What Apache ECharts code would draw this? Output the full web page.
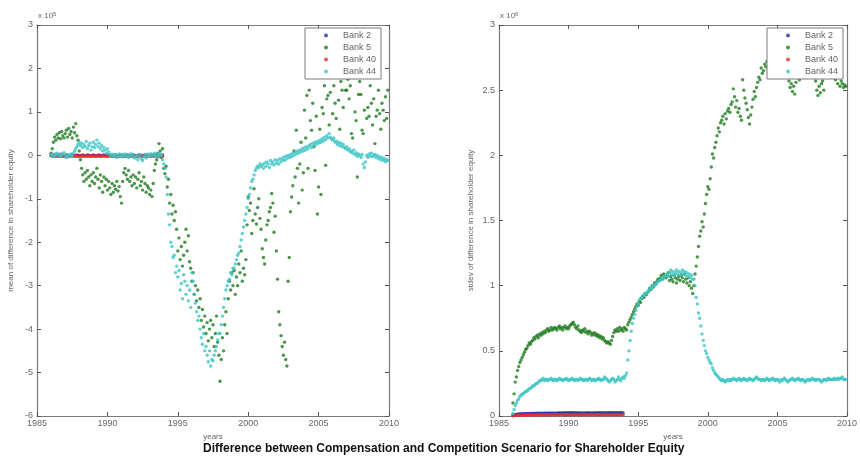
<!DOCTYPE html>
<html>
<head>
<meta charset="utf-8">
<script src="https://cdn.jsdelivr.net/npm/echarts@6/dist/echarts.min.js"></script>
<style>
  html, body { margin: 0; padding: 0; background: #fff; }
  #chart { width: 860px; height: 458px; }
</style>
</head>
<body>
<div id="chart"></div>
<script>
// monthly observations, first one at START_YEAR
const START_YEAR = 1986;
const bankNames = ["Bank 2", "Bank 5", "Bank 40", "Bank 44"];
const bankColors = ["#2b2ba6", "#1f7a1f", "#e03030", "#3cc4c4"];
const meanTicks = [-6, -5, -4, -3, -2, -1, 0, 1, 2, 3];
const stdevTicks = [0, 0.5, 1, 1.5, 2, 2.5, 3];
const yearTicks = [1985, 1990, 1995, 2000, 2005, 2010];

// mean of difference, x 10^5
const bank2Mean = [
  0.00, 0.01, -0.01, 0.00, 0.01, 0.00, -0.01, 0.00, 0.01, 0.00, 0.00, -0.01,
  0.00, 0.01, 0.00, -0.01, 0.00, 0.01, 0.00, 0.00, -0.01, 0.00, 0.01, 0.00,
  -0.01, 0.00, 0.00, 0.01, 0.00, -0.01, 0.00, 0.01, 0.00, 0.00, -0.01, 0.00,
  0.01, 0.00, -0.01, 0.00, 0.00, 0.01, 0.00, -0.01, 0.00, 0.01, 0.00, 0.00,
  -0.01, 0.00, 0.01, 0.00, 0.00, -0.01, 0.00, 0.01, 0.00, -0.01, 0.00, 0.00,
  0.01, 0.00, 0.00, -0.01, 0.00, 0.01, 0.00, 0.00, -0.01, 0.00, 0.01, 0.00,
  0.00, -0.01, 0.00, 0.01, 0.00, 0.00, -0.01, 0.00, 0.01, 0.00, 0.00, -0.01,
  0.00, 0.01, 0.00, -0.01, 0.00, 0.00, 0.01, 0.00, -0.01, 0.00, 0.00, 0.01
];
const bank5Mean = [
  0.05, 0.15, 0.30, 0.42, 0.35, 0.48, 0.40, 0.52, 0.38, 0.55, 0.45, 0.40,
  0.50, 0.58, 0.42, 0.62, 0.48, 0.55, 0.40, 0.65, 0.52, 0.73, 0.45, 0.35,
  0.10, -0.10, -0.30, -0.45, -0.60, -0.40, -0.55, -0.35, -0.50, -0.70, -0.45, -0.60,
  -0.40, -0.65, -0.50, -0.30, -0.55, -0.75, -0.45, -0.60, -0.85, -0.50, -0.70, -0.55,
  -0.80, -0.60, -0.75, -0.90, -0.65, -0.85, -0.70, -0.78, -0.60, -0.82, -0.72, -0.95,
  -1.10, -0.60, -0.40, -0.30, -0.45, -0.55, -0.35, -0.60, -0.50, -0.70, -0.45, -0.65,
  -0.50, -0.75, -0.55, -0.40, -0.70, -0.60, -0.80, -0.50, -0.65, -0.85, -0.70, -0.75,
  -0.90, -0.80, -0.95, -0.65, -0.35, -0.20, -0.10, 0.05, 0.27, 0.10, -0.05, 0.15,
  -0.30, -0.42, -0.25, -0.73, -0.55, -1.10, -0.90, -1.35, -1.15, -1.50, -1.30, -1.70,
  -2.20, -1.90, -2.40, -2.10, -2.55, -2.30, -2.00, -1.70, -2.20, -1.85, -2.45, -2.60,
  -2.90, -2.70, -3.20, -3.00, -3.35, -3.10, -3.50, -3.30, -3.80, -3.55, -3.95, -3.70,
  -4.10, -3.85, -4.27, -4.00, -3.80, -4.20, -3.90, -4.40, -4.10, -3.70, -4.30, -4.60,
  -5.20, -4.70, -4.20, -4.50, -3.90, -3.60, -4.10, -3.30, -2.90, -3.10, -2.70, -3.00,
  -2.65, -3.20, -2.80, -3.00, -2.50, -2.70, -2.20, -2.90, -2.60, -2.75, -2.40, -1.60,
  -0.96, -1.27, -1.10, -1.80, -1.50, -0.77, -1.35, -1.58, -1.20, -1.00, -1.45, -1.70,
  -2.15, -2.35, -2.50, -1.95, -1.60, -1.50, -1.30, -1.20, -0.88, -1.10, -1.77, -1.40,
  -2.20, -2.85, -3.60, -3.90, -4.15, -4.40, -4.60, -4.30, -4.70, -4.85, -2.90, -2.35,
  -1.30, -0.96, -0.70, 0.10, -0.50, 0.58, -0.30, -1.10, -0.20, 0.30, -0.80, -0.40,
  1.04, 0.40, 1.38, -0.30, 1.50, 0.80, 0.58, 1.20, 0.20, -0.35, 0.90, -1.35,
  -0.73, 0.60, -0.90, 1.10, 0.96, 1.60, -0.23, 1.30, 1.38, 0.70, 1.45, 1.85,
  0.96, 1.60, 1.20, 0.85, 1.90, 1.27, 0.60, 1.70, 1.50, 1.10, 2.00, 1.50,
  1.50, 1.75, 1.30, 1.60, 0.50, 0.40, 1.90, 1.00, 0.80, -0.50, 1.40, 1.70,
  1.40, 0.58, 0.50, 1.04, 1.85, 0.85, 1.10, 0.90, 1.60, 1.20, 0.70, 1.30,
  0.27, 0.90, 1.04, 1.50, 0.96, 0.60, 1.20, 1.04, 0.80, 1.35, 0.85, 1.50
];
const bank40Mean = [
  -0.01, -0.02, -0.01, -0.02, -0.01, -0.02, -0.02, -0.01, -0.02, -0.01, -0.02, -0.02,
  -0.01, -0.02, -0.02, -0.01, -0.02, -0.01, -0.02, -0.02, -0.01, -0.02, -0.01, -0.02,
  -0.02, -0.01, -0.02, -0.02, -0.01, -0.02, -0.01, -0.02, -0.02, -0.01, -0.02, -0.01,
  -0.02, -0.02, -0.01, -0.02, -0.01, -0.02, -0.02, -0.01, -0.02, -0.01, -0.02, -0.02,
  -0.01, -0.02, -0.01, -0.02, -0.02, -0.01, -0.02, -0.01, -0.02, -0.02, -0.01, -0.02,
  -0.02, -0.01, -0.02, -0.01, -0.02, -0.02, -0.01, -0.02, -0.01, -0.02, -0.02, -0.01,
  -0.02, -0.01, -0.02, -0.02, -0.01, -0.02, -0.01, -0.02, -0.02, -0.01, -0.02, -0.01,
  -0.02, -0.02, -0.01, -0.02, -0.01, -0.02, -0.02, -0.01, -0.02, -0.01, -0.02, -0.02
];
const bank44Mean = [
  0.00, 0.02, -0.02, 0.03, 0.00, 0.05, 0.02, -0.03, 0.04, 0.00, 0.03, 0.06,
  0.00, -0.05, 0.02, -0.04, 0.00, 0.03, -0.02, 0.05, 0.10, 0.15, 0.20, 0.25,
  0.30, 0.22, 0.28, 0.18, 0.25, 0.20, 0.32, 0.15, 0.22, 0.28, 0.12, 0.20,
  0.30, 0.18, 0.25, 0.35, 0.20, 0.28, 0.15, 0.22, 0.10, 0.18, 0.12, 0.05,
  0.15, 0.08, 0.02, -0.02, 0.03, 0.00, -0.03, 0.02, -0.05, 0.00, 0.03, -0.02,
  0.02, -0.04, 0.00, 0.03, -0.02, 0.01, -0.05, 0.00, 0.04, -0.02, 0.02, -0.06,
  -0.05, 0.00, -0.10, -0.03, 0.02, -0.08, -0.12, -0.04, 0.00, -0.06, 0.03, -0.02,
  0.00, 0.04, -0.03, 0.02, 0.05, -0.02, 0.00, 0.03, -0.04, 0.02, 0.00, -0.10,
  -0.20, -0.30, -0.50, -0.90, -1.35, -1.60, -2.00, -2.10, -2.35, -2.30, -2.70, -2.55,
  -2.80, -2.65, -3.10, -2.95, -3.30, -2.75, -2.90, -3.20, -3.00, -3.35, -3.10, -3.50,
  -2.70, -2.90, -3.20, -3.40, -3.60, -3.80, -3.70, -4.00, -4.20, -4.35, -4.10, -4.50,
  -4.40, -4.60, -4.75, -4.50, -4.85, -4.70, -4.73, -4.60, -4.50, -4.40, -4.25, -4.10,
  -4.10, -3.90, -3.70, -3.50, -3.30, -3.10, -3.00, -2.90, -2.85, -2.70, -2.75, -2.60,
  -2.60, -2.50, -2.40, -2.30, -2.25, -2.10, -1.95, -1.80, -1.65, -1.50, -1.35, -1.20,
  -1.00, -0.90, -0.75, -0.60, -0.55, -0.45, -0.35, -0.30, -0.25, -0.28, -0.20, -0.25,
  -0.22, -0.30, -0.18, -0.25, -0.15, -0.20, -0.28, -0.12, -0.20, -0.15, -0.22, -0.10,
  -0.18, -0.12, -0.20, -0.08, -0.15, -0.10, -0.05, -0.12, -0.02, -0.08, 0.00, -0.05,
  0.02, -0.03, 0.05, 0.00, 0.08, 0.03, 0.10, 0.05, 0.12, 0.08, 0.15, 0.10,
  0.18, 0.12, 0.20, 0.15, 0.22, 0.25, 0.18, 0.28, 0.22, 0.30, 0.25, 0.32,
  0.28, 0.35, 0.30, 0.38, 0.33, 0.42, 0.36, 0.45, 0.40, 0.50, 0.42, 0.38,
  0.35, 0.40, 0.30, 0.33, 0.25, 0.30, 0.22, 0.28, 0.20, 0.25, 0.18, 0.15,
  0.20, 0.12, 0.15, 0.08, 0.10, 0.05, 0.12, 0.02, 0.06, -0.02, 0.03, 0.00,
  -0.05, 0.02, -0.20, -0.28, -0.15, 0.00, -0.05, 0.03, -0.02, 0.05, -0.03, 0.00,
  0.02, -0.05, 0.00, -0.08, -0.03, -0.10, -0.05, -0.12, -0.08, -0.15, -0.10, -0.12
];

// stdev of difference, x 10^6
const bank2Std = [
  0.005, 0.008, 0.010, 0.012, 0.013, 0.014, 0.015, 0.016, 0.016, 0.017, 0.017, 0.018,
  0.018, 0.019, 0.018, 0.019, 0.020, 0.019, 0.020, 0.020, 0.021, 0.020, 0.021, 0.020,
  0.021, 0.020, 0.021, 0.022, 0.021, 0.020, 0.021, 0.022, 0.021, 0.022, 0.021, 0.022,
  0.022, 0.021, 0.022, 0.023, 0.022, 0.023, 0.022, 0.023, 0.024, 0.023, 0.024, 0.023,
  0.024, 0.025, 0.024, 0.025, 0.024, 0.023, 0.024, 0.023, 0.024, 0.023, 0.022, 0.023,
  0.022, 0.023, 0.022, 0.023, 0.024, 0.023, 0.022, 0.023, 0.022, 0.023, 0.024, 0.023,
  0.024, 0.023, 0.024, 0.025, 0.024, 0.023, 0.024, 0.023, 0.024, 0.023, 0.024, 0.025,
  0.024, 0.025, 0.024, 0.023, 0.024, 0.025, 0.024, 0.023, 0.024, 0.025, 0.024, 0.024
];
const bank5Std = [
  0.10, 0.17, 0.26, 0.30, 0.35, 0.38, 0.41, 0.43, 0.45, 0.47, 0.49, 0.51,
  0.52, 0.54, 0.56, 0.55, 0.57, 0.58, 0.60, 0.59, 0.61, 0.62, 0.60, 0.63,
  0.62, 0.64, 0.63, 0.65, 0.64, 0.66, 0.67, 0.65, 0.66, 0.68, 0.66, 0.67,
  0.68, 0.67, 0.66, 0.68, 0.69, 0.67, 0.68, 0.66, 0.68, 0.69, 0.67, 0.68,
  0.67, 0.69, 0.70, 0.71, 0.72, 0.70, 0.68, 0.67, 0.69, 0.66, 0.65, 0.64,
  0.66, 0.65, 0.67, 0.64, 0.65, 0.63, 0.65, 0.64, 0.62, 0.63, 0.64, 0.62,
  0.63, 0.61, 0.62, 0.60, 0.61, 0.59, 0.60, 0.58, 0.57, 0.56, 0.57, 0.56,
  0.55, 0.58, 0.61, 0.64, 0.66, 0.65, 0.67, 0.65, 0.68, 0.66, 0.67, 0.65,
  0.68, 0.67, 0.66, 0.70, 0.72, 0.74, 0.76, 0.78, 0.80, 0.82, 0.84, 0.86,
  0.85, 0.88, 0.87, 0.90, 0.92, 0.91, 0.94, 0.93, 0.95, 0.96, 0.98, 0.97,
  1.00, 0.99, 1.02, 1.01, 1.03, 1.05, 1.04, 1.06, 1.08, 1.05, 1.09, 1.07,
  1.06, 1.08, 1.10, 1.04, 1.07, 1.05, 1.03, 1.08, 1.06, 1.02, 1.05, 1.07,
  1.04, 1.08, 1.06, 1.03, 1.09, 1.05, 1.02, 1.06, 1.00, 1.03, 0.98, 0.94,
  1.00, 1.09, 1.15, 1.22, 1.30, 1.38, 1.42, 1.49, 1.45, 1.55, 1.63, 1.70,
  1.76, 1.74, 1.82, 1.91, 2.01, 1.98, 2.06, 2.10, 2.15, 2.21, 2.18, 2.25,
  2.27, 2.30, 2.24, 2.32, 2.28, 2.34, 2.36, 2.33, 2.39, 2.41, 2.51, 2.45,
  2.37, 2.42, 2.33, 2.36, 2.30, 2.27, 2.58, 2.50, 2.44, 2.40, 2.35, 2.29,
  2.24, 2.31, 2.37, 2.43, 2.49, 2.45, 2.52, 2.56, 2.60, 2.58, 2.67, 2.63,
  2.65, 2.70, 2.68, 2.72, 2.66, 2.71, 2.69, 2.74, 2.67, 2.70, 2.73, 2.68,
  2.70, 2.66, 2.72, 2.69, 2.65, 2.71, 2.68, 2.62, 2.70, 2.66, 2.57, 2.52,
  2.55, 2.49, 2.53, 2.47, 2.56, 2.60, 2.65, 2.58, 2.62, 2.67, 2.63, 2.60,
  2.64, 2.68, 2.62, 2.66, 2.60, 2.65, 2.63, 2.69, 2.61, 2.57, 2.50, 2.46,
  2.53, 2.48, 2.55, 2.57, 2.50, 2.60, 2.64, 2.62, 2.66, 2.61, 2.67, 2.63,
  2.60, 2.65, 2.58, 2.62, 2.55, 2.60, 2.53, 2.57, 2.55, 2.52, 2.54, 2.53
];
const bank40Std = [
  0.002, 0.003, 0.004, 0.005, 0.005, 0.006, 0.006, 0.007, 0.007, 0.007, 0.008, 0.008,
  0.008, 0.008, 0.009, 0.008, 0.009, 0.009, 0.008, 0.009, 0.009, 0.010, 0.009, 0.009,
  0.010, 0.009, 0.010, 0.010, 0.009, 0.010, 0.010, 0.009, 0.010, 0.010, 0.011, 0.010,
  0.010, 0.011, 0.010, 0.010, 0.011, 0.010, 0.011, 0.011, 0.010, 0.011, 0.010, 0.011,
  0.011, 0.010, 0.011, 0.011, 0.010, 0.011, 0.011, 0.010, 0.011, 0.010, 0.011, 0.011,
  0.010, 0.011, 0.011, 0.010, 0.011, 0.010, 0.011, 0.011, 0.010, 0.011, 0.011, 0.010,
  0.011, 0.010, 0.011, 0.011, 0.010, 0.011, 0.010, 0.011, 0.011, 0.010, 0.011, 0.011,
  0.010, 0.011, 0.011, 0.010, 0.011, 0.010, 0.011, 0.011, 0.010, 0.011, 0.011, 0.010
];
const bank44Std = [
  0.02, 0.05, 0.08, 0.10, 0.12, 0.13, 0.15, 0.16, 0.17, 0.17, 0.18, 0.19,
  0.19, 0.20, 0.21, 0.21, 0.22, 0.23, 0.23, 0.24, 0.25, 0.25, 0.26, 0.27,
  0.27, 0.28, 0.29, 0.27, 0.28, 0.28, 0.27, 0.28, 0.28, 0.29, 0.28, 0.27,
  0.28, 0.28, 0.27, 0.28, 0.29, 0.28, 0.28, 0.27, 0.28, 0.28, 0.29, 0.28,
  0.27, 0.28, 0.28, 0.29, 0.28, 0.27, 0.28, 0.28, 0.27, 0.28, 0.29, 0.28,
  0.28, 0.27, 0.28, 0.28, 0.27, 0.28, 0.29, 0.28, 0.27, 0.28, 0.28, 0.27,
  0.28, 0.28, 0.29, 0.28, 0.27, 0.28, 0.28, 0.30, 0.29, 0.28, 0.27, 0.26,
  0.27, 0.28, 0.29, 0.28, 0.26, 0.27, 0.28, 0.30, 0.28, 0.27, 0.29, 0.30,
  0.29, 0.31, 0.33, 0.43, 0.50, 0.58, 0.65, 0.71, 0.75, 0.78, 0.81, 0.84,
  0.86, 0.89, 0.90, 0.91, 0.92, 0.93, 0.94, 0.94, 0.95, 0.96, 0.97, 0.98,
  0.99, 1.00, 1.00, 1.01, 1.02, 1.03, 1.04, 1.04, 1.05, 1.06, 1.06, 1.07,
  1.08, 1.09, 1.07, 1.10, 1.12, 1.09, 1.11, 1.08, 1.10, 1.12, 1.09, 1.11,
  1.08, 1.10, 1.12, 1.09, 1.11, 1.08, 1.10, 1.07, 1.09, 1.06, 1.08, 1.05,
  1.05, 1.00, 0.91, 0.86, 0.79, 0.75, 0.69, 0.63, 0.58, 0.54, 0.50, 0.48,
  0.45, 0.43, 0.41, 0.40, 0.37, 0.35, 0.33, 0.32, 0.31, 0.30, 0.29, 0.28,
  0.27, 0.28, 0.27, 0.26, 0.27, 0.28, 0.27, 0.28, 0.27, 0.28, 0.29, 0.28,
  0.28, 0.27, 0.28, 0.29, 0.28, 0.27, 0.28, 0.29, 0.28, 0.28, 0.27, 0.28,
  0.29, 0.28, 0.28, 0.27, 0.28, 0.29, 0.30, 0.29, 0.28, 0.28, 0.27, 0.28,
  0.28, 0.27, 0.28, 0.29, 0.28, 0.27, 0.28, 0.28, 0.29, 0.28, 0.27, 0.28,
  0.28, 0.27, 0.26, 0.28, 0.27, 0.28, 0.29, 0.28, 0.27, 0.26, 0.27, 0.28,
  0.28, 0.29, 0.28, 0.27, 0.28, 0.28, 0.29, 0.28, 0.27, 0.28, 0.28, 0.27,
  0.26, 0.27, 0.28, 0.28, 0.27, 0.28, 0.29, 0.28, 0.28, 0.27, 0.28, 0.28,
  0.28, 0.27, 0.26, 0.27, 0.28, 0.28, 0.27, 0.28, 0.29, 0.28, 0.28, 0.28,
  0.28, 0.29, 0.28, 0.28, 0.29, 0.28, 0.29, 0.29, 0.30, 0.28, 0.28, 0.28
];

const FONT = "Liberation Sans, Arial, sans-serif";

function toPoints(values) {
  return values.map((v, i) => [START_YEAR + i / 12, v]);
}

function xAxes(gridIndex) {
  const base = {
    type: "value",
    gridIndex: gridIndex,
    min: 1985,
    max: 2010,
    interval: 5,
    splitLine: { show: false },
    axisLine: { show: true, onZero: false, lineStyle: { color: "#7a7a7a", width: 1.2 } },
    axisTick: { show: true, inside: true, length: 4, lineStyle: { color: "#555" } }
  };
  return [
    Object.assign({}, base, {
      position: "bottom",
      name: "years",
      nameLocation: "middle",
      nameGap: 15,
      nameTextStyle: { color: "#666", fontSize: 8, fontFamily: FONT },
      axisLabel: {
        color: "#666",
        fontSize: 9,
        fontFamily: FONT,
        margin: 3,
        formatter: v => String(v)
      }
    }),
    Object.assign({}, base, { position: "top", axisLabel: { show: false } })
  ];
}

function yAxes(gridIndex, min, max, interval, name, nameGap) {
  const base = {
    type: "value",
    gridIndex: gridIndex,
    min: min,
    max: max,
    interval: interval,
    splitLine: { show: false },
    axisLine: { show: true, onZero: false, lineStyle: { color: "#7a7a7a", width: 1.2 } },
    axisTick: { show: true, inside: true, length: 4, lineStyle: { color: "#555" } }
  };
  return [
    Object.assign({}, base, {
      position: "left",
      name: name,
      nameLocation: "middle",
      nameGap: nameGap,
      nameTextStyle: { color: "#666", fontSize: 8, fontFamily: FONT },
      axisLabel: { color: "#666", fontSize: 9, fontFamily: FONT, margin: 4 }
    }),
    Object.assign({}, base, { position: "right", axisLabel: { show: false } })
  ];
}

function legend(left) {
  return {
    data: bankNames,
    orient: "vertical",
    left: left,
    top: 28,
    itemWidth: 4,
    itemHeight: 4,
    itemGap: 3,
    padding: [3, 5, 3, 19],
    icon: "circle",
    backgroundColor: "#fff",
    borderColor: "#7a7a7a",
    borderWidth: 1,
    borderRadius: 0,
    z: 10,
    selectedMode: false,
    textStyle: { color: "#666", fontSize: 9, fontFamily: FONT, padding: [0, 0, 0, 10] }
  };
}

function scatter(name, values, xIdx, yIdx) {
  const c = bankColors[bankNames.indexOf(name)];
  return {
    name: name,
    type: "scatter",
    xAxisIndex: xIdx,
    yAxisIndex: yIdx,
    symbol: "circle",
    symbolSize: 3.4,
    itemStyle: { color: c },
    emphasis: { disabled: true },
    data: toPoints(values)
  };
}

const chart = echarts.init(document.getElementById("chart"), null, { renderer: "canvas" });

let option = {
  backgroundColor: "#fff",
  animation: false,
  title: {
    text: "Difference between Compensation and Competition Scenario for Shareholder Equity",
    left: 203,
    top: 443,
    padding: 0,
    textStyle: { color: "#111", fontSize: 12, fontWeight: "bold", fontFamily: FONT }
  },
  legend: [legend(305), legend(767)],
  grid: [
    { left: 37, top: 25, width: 352, height: 391 },
    { left: 499, top: 25, width: 352, height: 391 }
  ],
  xAxis: [].concat(xAxes(0), xAxes(1)),
  yAxis: [].concat(
    yAxes(0, -6, 3, 1, "mean of difference in shareholder equity", 22),
    yAxes(1, 0, 3, 0.5, "stdev of difference in shareholder equity", 24)
  ),
  graphic: [
    {
      type: "text",
      left: 38,
      top: 11,
      style: {
        text: "{a|x 10}{b|5}",
        rich: {
          a: { fontSize: 8, fill: "#666", fontFamily: FONT },
          b: { fontSize: 6, fill: "#666", fontFamily: FONT, verticalAlign: "top", padding: [0, 0, 4, 0] }
        }
      }
    },
    {
      type: "text",
      left: 500,
      top: 11,
      style: {
        text: "{a|x 10}{b|6}",
        rich: {
          a: { fontSize: 8, fill: "#666", fontFamily: FONT },
          b: { fontSize: 6, fill: "#666", fontFamily: FONT, verticalAlign: "top", padding: [0, 0, 4, 0] }
        }
      }
    }
  ],
  series: [
    scatter("Bank 2", bank2Mean, 0, 0),
    scatter("Bank 5", bank5Mean, 0, 0),
    scatter("Bank 40", bank40Mean, 0, 0),
    scatter("Bank 44", bank44Mean, 0, 0),
    scatter("Bank 2", bank2Std, 2, 2),
    scatter("Bank 5", bank5Std, 2, 2),
    scatter("Bank 40", bank40Std, 2, 2),
    scatter("Bank 44", bank44Std, 2, 2)
  ]
};

chart.setOption(option);
</script>
</body>
</html>
